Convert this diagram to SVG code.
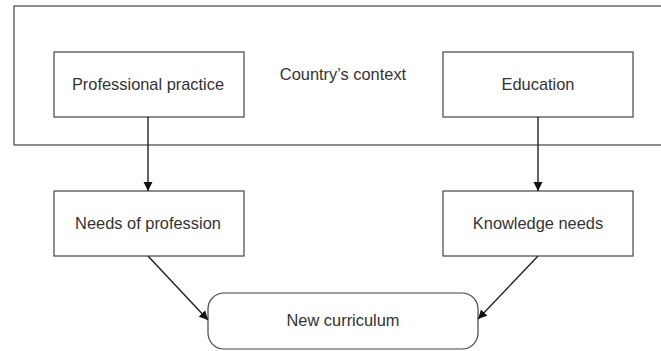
<svg xmlns="http://www.w3.org/2000/svg" width="661" height="351" viewBox="0 0 661 351">
<style>
.box{fill:#fff;stroke:#444;stroke-width:1.2}
.t{font-family:"Liberation Sans",Arial,sans-serif;font-size:16.4px;fill:#333;text-anchor:middle;dominant-baseline:central}
.c{stroke:#222;stroke-width:1.4;fill:none;marker-end:url(#ah)}
</style>
<defs>
<marker id="ah" markerWidth="10" markerHeight="10" refX="9" refY="5" orient="auto" markerUnits="userSpaceOnUse">
<path d="M0,0.5 L9,5 L0,9.5 Z" fill="#111"/>
</marker>
</defs>
<rect width="661" height="351" fill="#fff"/>
<g id="context">
<rect class="box" x="14" y="6" width="660" height="139"/>
<text class="t" x="343" y="74">Country’s context</text>
</g>
<g id="professional-practice">
<rect class="box" x="54" y="52" width="190" height="65"/>
<text class="t" x="148" y="84">Professional practice</text>
</g>
<g id="education">
<rect class="box" x="443" y="52" width="190" height="65"/>
<text class="t" x="538" y="84">Education</text>
</g>
<g id="needs-of-profession">
<rect class="box" x="54" y="191" width="190" height="65"/>
<text class="t" x="148" y="223">Needs of profession</text>
</g>
<g id="knowledge-needs">
<rect class="box" x="443" y="191" width="190" height="65"/>
<text class="t" x="538" y="223">Knowledge needs</text>
</g>
<g id="new-curriculum">
<rect class="box" x="208" y="293" width="270" height="56" rx="16" ry="16"/>
<text class="t" x="343" y="320">New curriculum</text>
</g>
<g id="connectors">
<line class="c" x1="148" y1="117" x2="148" y2="191"/>
<line class="c" x1="538" y1="117" x2="538" y2="191"/>
<line class="c" x1="148" y1="256" x2="208" y2="320"/>
<line class="c" x1="538" y1="256" x2="478" y2="319"/>
</g>
</svg>
